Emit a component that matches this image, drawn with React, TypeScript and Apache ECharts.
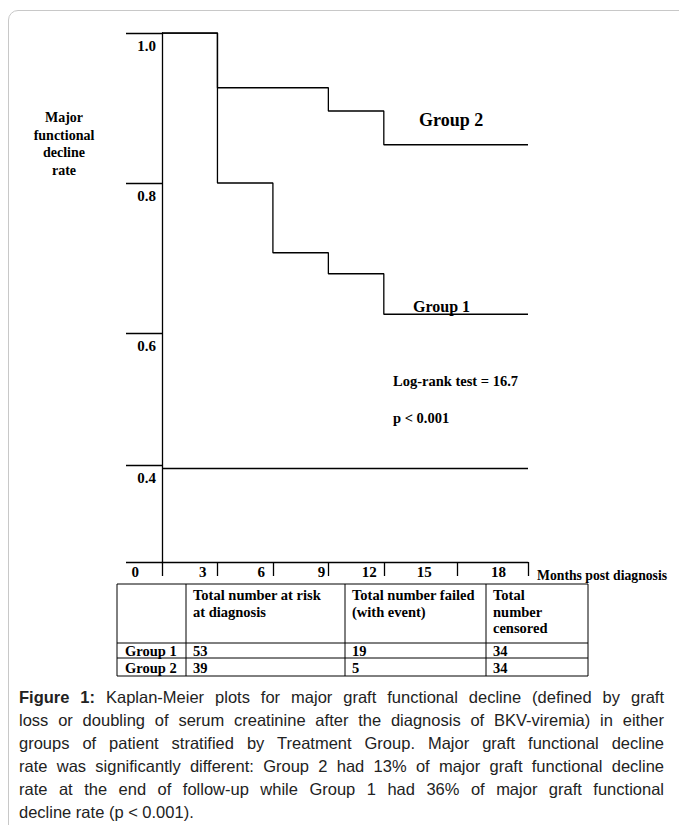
import React, { useEffect, useRef } from 'react';
import * as echarts from 'echarts';

// ---------- data ----------
const xTickMonths = [0, 3, 6, 9, 12, 15, 18];
const xTickLabels = ['0', '3', '6', '9', '12', '15', '18'];
const yTickValues = [0.4, 0.6, 0.8, 1.0];
const yTickLabels = ['0.4', '0.6', '0.8', '1.0'];

const group1Months = [0, 3, 6, 9, 12, 18];
const group1Rate = [1.0, 0.8, 0.707, 0.679, 0.625, 0.625];
const group2Months = [0, 3, 9, 12, 18];
const group2Rate = [1.0, 0.927, 0.896, 0.851, 0.851];
const referenceRate = 0.4;

const tableHeaders = ['', 'Total number at risk\nat diagnosis', 'Total number failed\n(with event)', 'Total\nnumber\ncensored'];
const tableGroups = ['Group 1', 'Group 2'];
const atRisk = [53, 39];
const failed = [19, 5];
const censored = [34, 34];

const captionLines = [
  'Kaplan-Meier plots for major graft functional decline (defined by graft',
  'loss or doubling of serum creatinine after the diagnosis of BKV-viremia) in either',
  'groups of patient stratified by Treatment Group. Major graft functional decline',
  'rate was significantly different: Group 2 had 13% of major graft functional decline',
  'rate at the end of follow-up while Group 1 had 36% of major graft functional',
  'decline rate (p < 0.001).',
];

// ---------- layout (hand-drawn axis spacing of the original figure) ----------
const xTickAxisPos = [0, 3, 6, 9, 12, 15.95, 19.8];
const yTickAxisPos = [0.424, 0.6, 0.8, 1.0];
const yAxisMin = 0.2947;
const xLabelGap = [23, 11, 8, 3, 7, 25, 22];
const tableColX = [117, 186, 345, 486, 588];
const tableRowY = [584, 643, 658, 676];

const SERIF = '"Liberation Serif", "Times New Roman", serif';

function interp(v: number, xs: number[], ys: number[]) {
  let i = 0;
  while (i < xs.length - 2 && v > xs[i + 1]) i++;
  const t = (v - xs[i]) / (xs[i + 1] - xs[i]);
  return ys[i] + t * (ys[i + 1] - ys[i]);
}
const toX = (m: number) => interp(m, xTickMonths, xTickAxisPos);
const toY = (r: number) => interp(r, yTickValues, yTickAxisPos);
const nearest = (v: number, arr: number[]) => {
  let best = 0;
  arr.forEach((a, i) => { if (Math.abs(a - v) < Math.abs(arr[best] - v)) best = i; });
  return best;
};

function buildOption() {
  const lineStyle = { color: '#000', width: 1.3 };
  const boldText = (size: number) => ({ fontFamily: SERIF, fontWeight: 'bold' as const, fontSize: size, fill: '#000' });

  const rich: Record<string, any> = {};
  xLabelGap.forEach((g, i) => {
    rich['g' + i] = { padding: [0, g, 0, 0], fontFamily: SERIF, fontWeight: 'bold', fontSize: 15, color: '#000' };
  });

  const graphic: any[] = [
    { type: 'text', x: 64, y: 144, style: { ...boldText(14), text: 'Major\nfunctional\ndecline\nrate', align: 'center', verticalAlign: 'middle', lineHeight: 17.5 } },
    { type: 'text', x: 419, y: 120, style: { ...boldText(18), text: 'Group 2', verticalAlign: 'middle' } },
    { type: 'text', x: 413, y: 306, style: { ...boldText(16), text: 'Group 1', verticalAlign: 'middle' } },
    { type: 'text', x: 393, y: 381, style: { ...boldText(14.5), text: 'Log-rank test = 16.7', verticalAlign: 'middle' } },
    { type: 'text', x: 393, y: 418, style: { ...boldText(14.5), text: 'p < 0.001', verticalAlign: 'middle' } },
  ];

  // table
  const tl = { stroke: '#000', lineWidth: 1 };
  const x0 = tableColX[0], x1 = tableColX[tableColX.length - 1];
  const y0 = tableRowY[0], y1 = tableRowY[tableRowY.length - 1];
  graphic.push({ type: 'rect', shape: { x: x0, y: y0, width: x1 - x0, height: y1 - y0 }, style: { ...tl, fill: 'none' } });
  tableColX.slice(1, -1).forEach((cx) => graphic.push({ type: 'line', shape: { x1: cx, y1: y0, x2: cx, y2: y1 }, style: tl }));
  tableRowY.slice(1, -1).forEach((ry) => graphic.push({ type: 'line', shape: { x1: x0, y1: ry, x2: x1, y2: ry }, style: tl }));
  tableHeaders.forEach((h, i) => {
    if (!h) return;
    graphic.push({ type: 'text', x: tableColX[i] + 7, y: y0 + 3, style: { ...boldText(14.5), text: h, verticalAlign: 'top', lineHeight: 16.5 } });
  });
  tableGroups.forEach((g, r) => {
    const cy = (tableRowY[r + 1] + tableRowY[r + 2]) / 2 + 0.5;
    const cells = [g, String(atRisk[r]), String(failed[r]), String(censored[r])];
    cells.forEach((c, i) => {
      graphic.push({ type: 'text', x: tableColX[i] + (i === 0 ? 8 : 7), y: cy, style: { ...boldText(14.5), text: c, verticalAlign: 'middle' } });
    });
  });

  const stepSeries = (name: string, months: number[], rates: number[]) => ({
    name,
    type: 'line',
    step: 'end',
    symbol: 'none',
    lineStyle,
    data: months.map((m, i) => [toX(m), toY(rates[i])]),
    silent: true,
  });

  return {
    animation: false,
    grid: { left: 162, top: 33, width: 366, height: 529, containLabel: false },
    xAxis: {
      type: 'value',
      min: 0,
      max: toX(18),
      axisLine: { show: true, onZero: false, lineStyle },
      axisTick: { show: true, length: 14, inside: false, customValues: xTickMonths.map(toX), lineStyle },
      axisLabel: {
        show: true,
        customValues: xTickMonths.map(toX),
        align: 'right',
        verticalAlign: 'top',
        margin: 2,
        formatter: (v: number) => {
          const i = nearest(v, xTickAxisPos);
          return '{g' + i + '|' + xTickLabels[i] + '}';
        },
        rich,
      },
      splitLine: { show: false },
      name: 'Months post diagnosis',
      nameLocation: 'end',
      nameGap: 9,
      nameTextStyle: { fontFamily: SERIF, fontWeight: 'bold', fontSize: 13.7, color: '#000', align: 'left', verticalAlign: 'top', padding: [6, 0, 0, 0] },
    },
    yAxis: {
      type: 'value',
      min: yAxisMin,
      max: 1,
      axisLine: { show: true, lineStyle },
      axisTick: { show: true, length: 36, inside: false, customValues: [yAxisMin, ...yTickValues.map(toY)], lineStyle },
      axisLabel: {
        show: true,
        customValues: yTickValues.map(toY),
        align: 'right',
        verticalAlign: 'top',
        margin: 6,
        padding: [5, 0, 0, 0],
        fontFamily: SERIF,
        fontWeight: 'bold',
        fontSize: 15,
        color: '#000',
        formatter: (v: number) => yTickLabels[nearest(v, yTickAxisPos)],
      },
      splitLine: { show: false },
    },
    series: [
      {
        ...stepSeries('Group 2', group2Months, group2Rate),
        markLine: {
          silent: true,
          symbol: 'none',
          label: { show: false },
          lineStyle: { color: '#000', width: 1.3, type: 'solid' },
          data: [{ yAxis: toY(referenceRate) }],
        },
      },
      stepSeries('Group 1', group1Months, group1Rate),
    ],
    graphic,
  };
}

export default function App() {
  const ref = useRef<HTMLDivElement>(null);
  useEffect(() => {
    if (!ref.current) return;
    const chart = echarts.init(ref.current, undefined, { renderer: 'svg' });
    chart.setOption(buildOption() as any);
    return () => chart.dispose();
  }, []);

  const lineStyleBase: React.CSSProperties = {
    height: 23,
    lineHeight: '23px',
    whiteSpace: 'nowrap',
  };

  return (
    <div style={{ position: 'fixed', left: 0, top: 0, width: 679, height: 825, overflow: 'hidden', background: '#fff' }}>
      <div style={{ position: 'absolute', left: 8, top: 10, width: 740, height: 900, border: '1.5px solid #c8c8c8', borderRadius: 10, boxSizing: 'border-box' }} />
      <div ref={ref} style={{ position: 'absolute', left: 0, top: 0, width: 679, height: 684 }} />
      <div style={{ position: 'absolute', left: 19, top: 686, width: 645, fontFamily: '"Liberation Sans", Arial, sans-serif', fontSize: 16.5, color: '#222' }}>
        {captionLines.map((t, i) => {
          const last = i === captionLines.length - 1;
          return (
            <div key={i} style={{ ...lineStyleBase, textAlign: last ? 'left' : 'justify', textAlignLast: last ? 'left' : 'justify' } as React.CSSProperties}>
              {i === 0 ? <b>Figure 1: </b> : null}
              {t}
            </div>
          );
        })}
      </div>
    </div>
  );
}
